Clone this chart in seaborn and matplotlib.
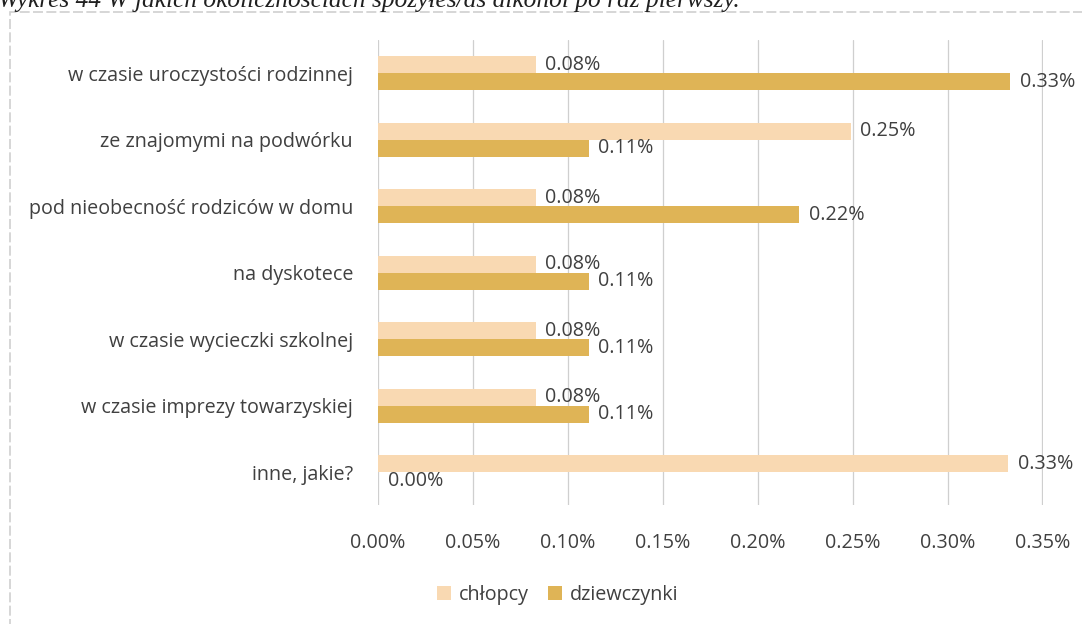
import pandas as pd
import numpy as np
import seaborn as sns
import matplotlib.pyplot as plt
from matplotlib.patches import Rectangle

# Dane z wykresu (wartości w %)
kategorie = [
    "w czasie uroczystości rodzinnej",
    "ze znajomymi na podwórku",
    "pod nieobecność rodziców w domu",
    "na dyskotece",
    "w czasie wycieczki szkolnej",
    "w czasie imprezy towarzyskiej",
    "inne, jakie?",
]
chlopcy = [0.083, 0.249, 0.083, 0.083, 0.083, 0.083, 0.332]
dziewczynki = [0.333, 0.111, 0.222, 0.111, 0.111, 0.111, 0.0]
grupy = ["chłopcy", "dziewczynki"]
tick_vals = [0.0, 0.05, 0.10, 0.15, 0.20, 0.25, 0.30, 0.35]

df = pd.DataFrame({
    "kategoria": kategorie * 2,
    "wartosc": chlopcy + dziewczynki,
    "plec": [grupy[0]] * len(kategorie) + [grupy[1]] * len(kategorie),
})

sns.set_style("white")
plt.rcParams["font.family"] = ["Open Sans", "DejaVu Sans"]

kolory = {"chłopcy": "#F9D9B2", "dziewczynki": "#DFB456"}
szary = "#404040"
fs = 14.2

fig = plt.figure(figsize=(10.82, 6.24), dpi=100)
ax = fig.add_axes([0.3494, 0.19, 0.6146, 0.746])

sns.barplot(data=df, y="kategoria", x="wartosc", hue="plec", hue_order=grupy,
            order=kategorie, palette=kolory, orient="h", width=0.51,
            saturation=1, linewidth=0, ax=ax, legend=True)

# Etykiety danych
for cont, wartosci in zip(ax.containers, [chlopcy, dziewczynki]):
    ax.bar_label(cont, labels=[f"{v:.2f}%" for v in wartosci], padding=7,
                 fontsize=fs, color=szary)

ax.set_xlim(0, 0.3503)
ax.set_ylim(6.5, -0.5)
ax.set_xticks(tick_vals)
ax.set_xticklabels([f"{v:.2f}%" for v in tick_vals], fontsize=fs, color=szary)
ax.tick_params(axis="x", pad=20, length=0)
ax.tick_params(axis="y", labelsize=fs, labelcolor=szary, pad=18, length=0)
ax.set_xlabel("")
ax.set_ylabel("")
ax.grid(axis="x", color="#CFCFCF", linewidth=0.9)
ax.set_axisbelow(True)
for s in ax.spines.values():
    s.set_visible(False)

leg = ax.legend(loc="center", bbox_to_anchor=(0.27, -0.192), ncol=2, frameon=False,
                fontsize=fs, handlelength=0.7, handleheight=0.7, handletextpad=0.4,
                columnspacing=1.0)
for t in leg.get_texts():
    t.set_color(szary)

# Ramka wykresu
fig.patches.append(Rectangle((10 / 1082, -0.01), 1.1, 1 - 11.5 / 624 + 0.01,
                             transform=fig.transFigure, fill=False,
                             edgecolor="#D0D0D0", linewidth=1.2, linestyle=(0, (6, 2))))

# Tytuł (ucięty u góry, jak w oryginale)
fig.text(-0.002, 1 - 7.5 / 624, "Wykres 44 W jakich okolicznościach spożyłeś/aś alkohol po raz pierwszy.",
         fontsize=18.3, style="italic", family="Liberation Serif", color="#202020",
         va="baseline", ha="left")

plt.savefig("out.png", dpi=100)
